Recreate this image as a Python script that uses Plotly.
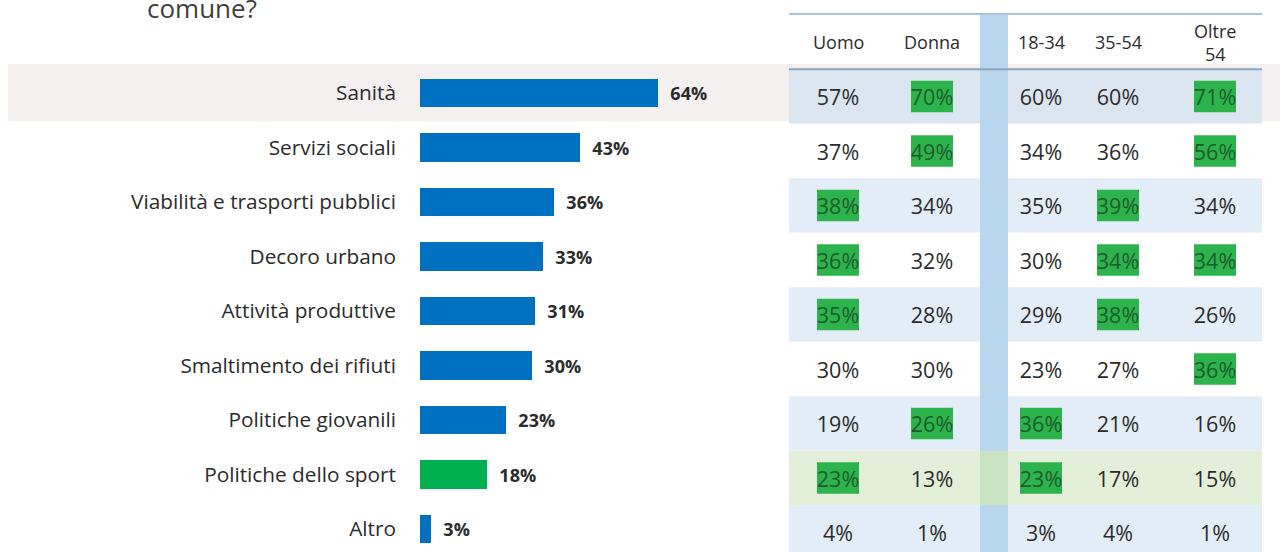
import plotly.graph_objects as go

# ---------------- data ----------------
categories = ["Sanità", "Servizi sociali", "Viabilità e trasporti pubblici", "Decoro urbano",
              "Attività produttive", "Smaltimento dei rifiuti", "Politiche giovanili",
              "Politiche dello sport", "Altro"]
totals = [64, 43, 36, 33, 31, 30, 23, 18, 3]
highlight_category = "Politiche dello sport"

column_labels = ["Uomo", "Donna", "18-34", "35-54", "Oltre<br>54"]
uomo = [57, 37, 38, 36, 35, 30, 19, 23, 4]
donna = [70, 49, 34, 32, 28, 30, 26, 13, 1]
eta_18_34 = [60, 34, 35, 30, 29, 23, 36, 23, 3]
eta_35_54 = [60, 36, 39, 34, 38, 27, 21, 17, 4]
oltre_54 = [71, 56, 34, 34, 26, 36, 16, 15, 1]

# 1 = cell highlighted as significantly higher
hl_uomo = [0, 0, 1, 1, 1, 0, 0, 1, 0]
hl_donna = [1, 1, 0, 0, 0, 0, 1, 0, 0]
hl_18_34 = [0, 0, 0, 0, 0, 0, 1, 1, 0]
hl_35_54 = [0, 0, 1, 1, 1, 0, 0, 0, 0]
hl_oltre = [1, 1, 0, 1, 0, 1, 0, 0, 0]

title_text = "comune?"

# ---------------- layout constants (pixels) ----------------
W, H = 1280, 552
ROW0, ROWH = 93, 54.5
BAR_X0, BAR_X1, PX_PER_PCT = 420, 780, 3.72
TABLE_X0, TABLE_X1 = 789, 1262
STRIPE_X0, STRIPE_X1 = 980, 1008
col_px = [838, 932, 1041, 1118, 1215]
TABLE_DY = 3.5 / ROWH      # table rows sit slightly lower than bar rows
TEXT_DY = 7.0 / ROWH       # cell text baseline correction
HEADER_Y = 42
TOP_LINE_Y = 14
FONT = "Open Sans"
TXT = "#2b2b2b"
BLUE = "#0070C0"
GREEN = "#00B050"
HL_BOX = "#2db34c"
HL_TXT = "#1b5c2b"

row_colors = ["#dbe5f0", "#ffffff", "#e3edf7", "#ffffff", "#e3edf7", "#ffffff",
              "#e3edf7", "#e3efd9", "#e3edf7"]
SANITA_BAND = "#f4f0ef"
STRIPE = "#bad6ee"
STRIPE_GREEN = "#c9e2c2"

n = len(categories)
rows = list(range(n))
y_top = -ROW0 / ROWH
y_bot = (H - ROW0) / ROWH

def px(x):
    return x / W

def py(y):
    return 1 - y / H

fig = go.Figure()

# bars
fig.add_trace(go.Bar(
    x=totals, y=rows, orientation="h", width=0.52,
    marker=dict(color=[GREEN if c == highlight_category else BLUE for c in categories], line=dict(width=0)),
    text=[f"  {v}%" for v in totals], textposition="outside", cliponaxis=False,
    textfont=dict(family=FONT, size=18, color=TXT, weight="bold"),
    hoverinfo="skip", showlegend=False,
))

cols = [uomo, donna, eta_18_34, eta_35_54, oltre_54]
hls = [hl_uomo, hl_donna, hl_18_34, hl_35_54, hl_oltre]
shapes = []

# row bands
shapes.append(dict(type="rect", xref="paper", yref="y", x0=px(8), x1=1, y0=-0.53, y1=0.52,
                   fillcolor=SANITA_BAND, line=dict(width=0), layer="below"))
for i, c in enumerate(row_colors):
    shapes.append(dict(type="rect", xref="paper", yref="y", x0=px(TABLE_X0), x1=px(TABLE_X1),
                       y0=i - 0.5 + TABLE_DY, y1=i + 0.5 + TABLE_DY, fillcolor=c,
                       line=dict(width=0), layer="below"))
# stripe between gender and age groups
shapes.append(dict(type="rect", xref="paper", yref="paper", x0=px(STRIPE_X0), x1=px(STRIPE_X1),
                   y0=0, y1=py(TOP_LINE_Y), fillcolor=STRIPE, line=dict(width=0), layer="below"))
sport_i = categories.index(highlight_category)
shapes.append(dict(type="rect", xref="paper", yref="y", x0=px(STRIPE_X0), x1=px(STRIPE_X1),
                   y0=sport_i - 0.5 + TABLE_DY, y1=sport_i + 0.5 + TABLE_DY,
                   fillcolor=STRIPE_GREEN, line=dict(width=0), layer="below"))
# header lines
shapes.append(dict(type="line", xref="paper", yref="paper", x0=px(TABLE_X0), x1=px(TABLE_X1),
                   y0=py(TOP_LINE_Y), y1=py(TOP_LINE_Y), line=dict(color="#a9c3db", width=2), layer="below"))
shapes.append(dict(type="line", xref="paper", yref="y", x0=px(TABLE_X0), x1=px(TABLE_X1),
                   y0=-0.5 + TABLE_DY, y1=-0.5 + TABLE_DY, line=dict(color="#8aa6c1", width=2), layer="below"))

for ci, (vals, hl) in enumerate(zip(cols, hls)):
    for r in rows:
        if hl[r]:
            shapes.append(dict(type="rect", xref="paper", yref="y",
                               x0=px(col_px[ci] - 21), x1=px(col_px[ci] + 21),
                               y0=r + TABLE_DY - 0.29, y1=r + TABLE_DY + 0.29, fillcolor=HL_BOX,
                               line=dict(width=0), layer="below"))
    fig.add_trace(go.Scatter(
        x=[col_px[ci]] * n, y=[r + TEXT_DY for r in rows], xaxis="x2", yaxis="y", mode="text",
        text=[f"{v}%" for v in vals], textposition="middle center",
        textfont=dict(family=FONT, size=21.5, color=[HL_TXT if h else TXT for h in hl]),
        cliponaxis=False, hoverinfo="skip", showlegend=False,
    ))

annotations = []
for ci, lab in enumerate(column_labels):
    annotations.append(dict(x=px(col_px[ci]), y=py(HEADER_Y), xref="paper", yref="paper",
                            text=lab, showarrow=False, xanchor="center", yanchor="middle",
                            font=dict(family=FONT, size=18, color=TXT)))
annotations.append(dict(x=px(145), y=py(28), xref="paper", yref="paper", text=title_text,
                        showarrow=False, xanchor="left", yanchor="bottom",
                        font=dict(family=FONT, size=26, color="#404040")))

fig.update_layout(
    width=W, height=H, margin=dict(l=0, r=0, t=0, b=0),
    paper_bgcolor="white", plot_bgcolor="rgba(0,0,0,0)",
    shapes=shapes, annotations=annotations, bargap=0,
    xaxis=dict(domain=[px(BAR_X0), px(BAR_X1)], range=[0, (BAR_X1 - BAR_X0) / PX_PER_PCT],
               visible=False, fixedrange=True),
    xaxis2=dict(domain=[0, 1], range=[0, W], anchor="y", visible=False, fixedrange=True),
    yaxis=dict(range=[y_bot, y_top], tickvals=rows, ticktext=categories, showgrid=False,
               zeroline=False, showline=False, ticks="", ticklabelstandoff=23,
               tickfont=dict(family=FONT, size=20.8, color=TXT), fixedrange=True),
    showlegend=False,
)

fig.write_html("out.html", config={"displayModeBar": False},
               post_script="document.body.style.margin='0';document.body.style.overflow='hidden';")
